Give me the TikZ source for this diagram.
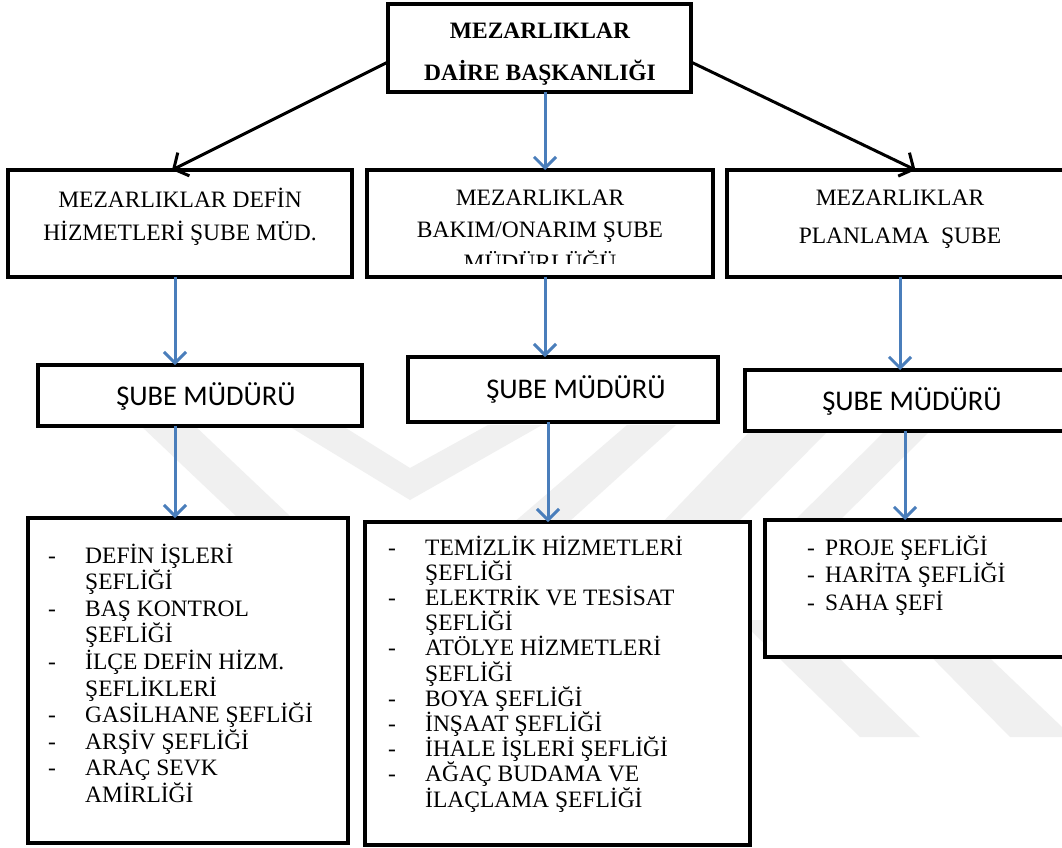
\documentclass[tikz,border=0pt]{standalone}
\usepackage{fontspec}
\setmainfont{Liberation Serif}
\newfontfamily\calfont{Carlito}
\usetikzlibrary{arrows.meta,calc}
\definecolor{arrowblue}{HTML}{4A7EBB}
\definecolor{wmark}{HTML}{F0F0F0}
\begin{document}
\begin{tikzpicture}[x=1pt,y=-1pt,
  box/.style={draw=black, line width=3.5pt, fill=white, inner sep=0pt, outer sep=0pt, anchor=north west},
  serif/.style={inner sep=0pt, anchor=base, font=\fontsize{23.5}{28}\selectfont},
  serifb/.style={inner sep=0pt, anchor=base, font=\fontsize{23.5}{28}\selectfont\bfseries},
  sans/.style={inner sep=0pt, anchor=base, font=\calfont\fontsize{28.5}{32}\selectfont},
  item/.style={inner sep=0pt, anchor=base west, font=\fontsize{23.5}{28}\selectfont},
  blk/.style={draw=black, line width=3pt, -{Straight Barb[length=11pt,width=26pt,line width=3pt]}},
  blu/.style={draw=arrowblue, line width=3pt, -{Straight Barb[length=11pt,width=22pt,line width=3pt]}},
  band/.style={fill=wmark}]
\clip (0,0) rectangle (1062,847);
\fill[white] (0,0) rectangle (1062,847);
% watermark (faint background bands)
\fill[band] (140,425) -- (194,425) -- (330,554) -- (276,554) -- cycle;
\fill[band] (287,425) -- (341,425) -- (410,468) -- (488,425) -- (542,425) -- (410,500) -- cycle;
\fill[band] (627,425) -- (676,425) -- (560,530) -- (505,530) -- cycle;
\fill[band] (752,429) -- (830,429) -- (735,525) -- (660,525) -- cycle;
\fill[band] (887,429) -- (932,429) -- (835,525) -- (790,525) -- cycle;
\fill[band] (740,620) -- (800,620) -- (920,737) -- (860,737) -- cycle;
\fill[band] (895,620) -- (950,620) -- (1062,727) -- (1062,737) -- (1010,737) -- cycle;
% boxes
\node[box, minimum width=303pt, minimum height=88pt] (top) at (388,4) {};
\node[box, minimum width=344pt, minimum height=107pt] (d1) at (8,170) {};
\node[box, minimum width=346pt, minimum height=107pt] (d2) at (367,170) {};
\node[box, minimum width=345pt, minimum height=107pt] (d3) at (727,170) {};
\node[box, minimum width=324pt, minimum height=61pt] (s1) at (38,365) {};
\node[box, minimum width=310pt, minimum height=65pt] (s2) at (408,357) {};
\node[box, minimum width=325pt, minimum height=61pt] (s3) at (745,370) {};
\node[box, minimum width=320pt, minimum height=325pt] (l1) at (28,518) {};
\node[box, minimum width=385pt, minimum height=323pt] (l2) at (365,522) {};
\node[box, minimum width=305pt, minimum height=137pt] (l3) at (765,520) {};
% texts
\node[serifb] (t1) at (540,38) {MEZARLIKLAR};
\node[serifb] (t2) at (540,80) {DAİRE BAŞKANLIĞI};
\node[serif] (d1a) at (180,207) {MEZARLIKLAR DEFİN};
\node[serif] (d1b) at (180,240) {HİZMETLERİ ŞUBE MÜD.};
\begin{scope}
\clip (369,172) rectangle (711,263);
\node[serif] (d2a) at (540,205) {MEZARLIKLAR};
\node[serif] (d2b) at (540,237) {BAKIM/ONARIM ŞUBE};
\node[serif] (d2c) at (540,270) {MÜDÜRLÜĞÜ};
\end{scope}
\node[serif] (d3a) at (900,205) {MEZARLIKLAR};
\node[serif] (d3b) at (900,243) {PLANLAMA\ \ ŞUBE};
\node[sans] (s1t) at (206,405) {ŞUBE MÜDÜRÜ};
\node[sans] (s2t) at (576,398) {ŞUBE MÜDÜRÜ};
\node[sans] (s3t) at (912,410) {ŞUBE MÜDÜRÜ};
% list 1
\foreach \txt [count=\i from 0] in {DEFİN İŞLERİ, ŞEFLİĞİ, BAŞ KONTROL, ŞEFLİĞİ, İLÇE DEFİN HİZM., ŞEFLİKLERİ, GASİLHANE ŞEFLİĞİ, ARŞİV ŞEFLİĞİ, ARAÇ SEVK, AMİRLİĞİ}
  \node[item] (la\i) at (85,{563+26.6*\i}) {\txt};
\foreach \i in {0,2,4,6,7,8}
  \node[item] (lad\i) at (48,{563+26.6*\i}) {-};
% list 2
\foreach \txt [count=\i from 0] in {TEMİZLİK HİZMETLERİ, ŞEFLİĞİ, ELEKTRİK VE TESİSAT, ŞEFLİĞİ, ATÖLYE HİZMETLERİ, ŞEFLİĞİ, BOYA ŞEFLİĞİ, İNŞAAT ŞEFLİĞİ, İHALE İŞLERİ ŞEFLİĞİ, AĞAÇ BUDAMA VE, İLAÇLAMA ŞEFLİĞİ}
  \node[item] (lb\i) at (425,{555+25.2*\i}) {\txt};
\foreach \i in {0,2,4,6,7,8,9}
  \node[item] (lbd\i) at (388,{555+25.2*\i}) {-};
% list 3
\foreach \txt [count=\i from 0] in {PROJE ŞEFLİĞİ, HARİTA ŞEFLİĞİ, SAHA ŞEFİ}
  {\node[item] (lc\i) at (825,{555+27.5*\i}) {\txt};
   \node[item] (lcd\i) at (807,{555+27.5*\i}) {-};}
% connectors
\coordinate (tl) at (388,62);
\coordinate (tr) at (691,62);
\draw[blk] (tl) -- ($(d1.north)+(-8,0)$);
\draw[blk] (tr) -- ($(d3.north)+(16,0)$);
\draw[blu] (top.south -| 545,0) -- (d2.north -| 545,0);
\draw[blu] (d1.south -| 175,0) -- (s1.north -| 175,0);
\draw[blu] (d2.south -| 545,0) -- (s2.north -| 545,0);
\draw[blu] (d3.south -| 900,0) -- (s3.north -| 900,0);
\draw[blu] (s1.south -| 175,0) -- (l1.north -| 175,0);
\draw[blu] (s2.south -| 548,0) -- (l2.north -| 548,0);
\draw[blu] (s3.south -| 905,0) -- (l3.north -| 905,0);
\end{tikzpicture}
\end{document}
